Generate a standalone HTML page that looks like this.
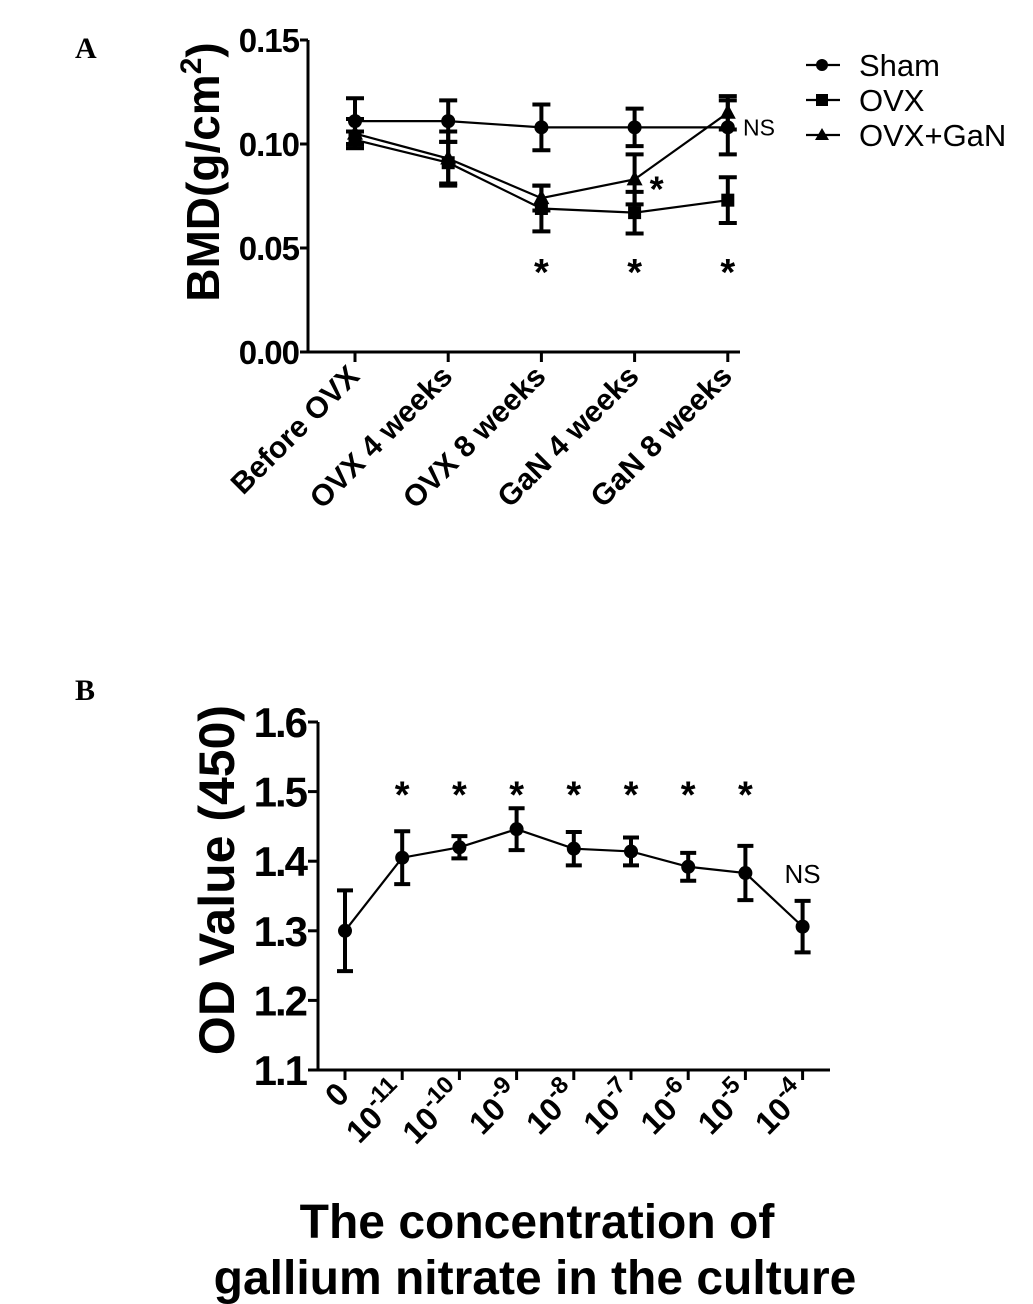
<!DOCTYPE html>
<html><head><meta charset="utf-8"><style>
html,body{margin:0;padding:0;background:#fff;}
svg{display:block;font-family:"Liberation Sans",Arial,sans-serif;}
</style></head><body>
<svg id="fig" width="1033" height="1304" viewBox="0 0 1033 1304">
<text x="75" y="58" font-family="Liberation Serif,serif" font-weight="bold" font-size="30">A</text>
<text x="75" y="700" font-family="Liberation Serif,serif" font-weight="bold" font-size="30">B</text>
<g id="chartA"></g>
<g id="chartB"></g>
</svg>
<script>
const aCategories = ["Before OVX","OVX 4 weeks","OVX 8 weeks","GaN 4 weeks","GaN 8 weeks"];
const aTicks = [0.00,0.05,0.10,0.15];
const aTickLabels = ["0.00","0.05","0.10","0.15"];
const shamValues = [0.111,0.111,0.108,0.108,0.108];
const shamErrors = [0.011,0.010,0.011,0.009,0.013];
const ovxValues = [0.102,0.091,0.069,0.067,0.073];
const ovxErrors = [0.004,0.010,0.011,0.010,0.011];
const ganValues = [0.105,0.093,0.074,0.083,0.115];
const ganErrors = [0.007,0.013,0.006,0.012,0.008];
const aStars = [null,null,"*","*","*"];

const bCategories = ["0","-11","-10","-9","-8","-7","-6","-5","-4"];
const bTicks = [1.1,1.2,1.3,1.4,1.5,1.6];
const bTickLabels = ["1.1","1.2","1.3","1.4","1.5","1.6"];
const odValues = [1.300,1.405,1.420,1.446,1.418,1.414,1.392,1.383,1.306];
const odErrors = [0.058,0.038,0.016,0.030,0.024,0.020,0.020,0.039,0.037];
const bMarks = ["","*","*","*","*","*","*","*","NS"];

const NS="http://www.w3.org/2000/svg";
function mk(parent,tag,attrs,text){const e=document.createElementNS(NS,tag);for(const k in attrs)e.setAttribute(k,attrs[k]);if(text!==undefined)e.textContent=text;parent.appendChild(e);return e;}

// ---------- Chart A ----------
const gA=document.getElementById('chartA');
const axA={x0:308,x1:740,yTop:40,yBot:352,vmax:0.15};
const yA=v=>axA.yBot-(v/axA.vmax)*(axA.yBot-axA.yTop);
const xA=i=>355+i*93.2;
let e;
e=mk(gA,'line',{x1:axA.x0,y1:axA.yTop,x2:axA.x0,y2:axA.yBot,stroke:'#000','stroke-width':3});


e=mk(gA,'line',{x1:axA.x0-2,y1:axA.yBot,x2:axA.x1,y2:axA.yBot,stroke:'#000','stroke-width':3});


aTicks.forEach((t,i)=>{
  mk(gA,'line',{x1:axA.x0-8,y1:yA(t),x2:axA.x0,y2:yA(t),stroke:'#000','stroke-width':3});
  e=mk(gA,'text',{x:299,y:yA(t)+12,'text-anchor':'end','font-weight':'bold','font-size':33,'letter-spacing':-1},aTickLabels[i]);
  
  
});
aCategories.forEach((c,i)=>{
  const x=xA(i);
  mk(gA,'line',{x1:x,y1:axA.yBot,x2:x,y2:axA.yBot+10,stroke:'#000','stroke-width':3});
  e=mk(gA,'text',{x:x+6,y:axA.yBot+26,'text-anchor':'end','font-weight':'bold','font-size':30,transform:`rotate(-45 ${x+6} ${axA.yBot+26})`},c);
  
  
});
e=mk(gA,'text',{x:0,y:0,'text-anchor':'middle','font-weight':'bold','font-size':46,transform:'translate(219 172) rotate(-90)'});


e.innerHTML='BMD(g/cm<tspan dy="-18" font-size="30">2</tspan><tspan dy="18">)</tspan>';

function series(g,vals,errs,xf,yf,marker,name,cap){
  let d='';vals.forEach((v,i)=>{d+=(i?'L':'M')+xf(i)+' '+yf(v);});
  e=mk(g,'path',{d:d,fill:'none',stroke:'#000','stroke-width':2.2});
  
  
  vals.forEach((v,i)=>{
    const x=xf(i),y1=yf(v+errs[i]),y2=yf(v-errs[i]);
    e=mk(g,'path',{d:`M${x} ${y1}V${y2}M${x-cap} ${y1}H${x+cap}M${x-cap} ${y2}H${x+cap}`,stroke:'#000','stroke-width':4,fill:'none'});
    
    
    const y=yf(v);
    if(marker==='circle') e=mk(g,'circle',{cx:x,cy:y,r:7,fill:'#000'});
    else if(marker==='square') e=mk(g,'rect',{x:x-6.5,y:y-6.5,width:13,height:13,fill:'#000'});
    else e=mk(g,'path',{d:`M${x} ${y-9}L${x+8} ${y+6}L${x-8} ${y+6}Z`,fill:'#000'});
    
    
  });
}
series(gA,ovxValues,ovxErrors,xA,yA,'square','ovx',9);
series(gA,ganValues,ganErrors,xA,yA,'triangle','ovx-gan',9);
series(gA,shamValues,shamErrors,xA,yA,'circle','sham',9);
aStars.forEach((s,i)=>{ if(!s) return;
  e=mk(gA,'text',{x:xA(i),y:yA(0.040)+16,'text-anchor':'middle','font-weight':'bold','font-size':38},s);
  
  
});
e=mk(gA,'text',{x:xA(3)+22,y:yA(ganValues[3])+22,'text-anchor':'middle','font-weight':'bold','font-size':36},'*');


e=mk(gA,'text',{x:743,y:yA(shamValues[4])+8,'font-size':23},'NS');


// legend
const leg=[["Sham","circle"],["OVX","square"],["OVX+GaN","triangle"]];
leg.forEach((l,i)=>{
  const y=65+i*35;
  const g=mk(gA,'g',{});
  
  
  mk(g,'line',{x1:806,y1:y,x2:840,y2:y,stroke:'#000','stroke-width':2.2});
  if(l[1]==='circle') mk(g,'circle',{cx:822,cy:y,r:6,fill:'#000'});
  else if(l[1]==='square') mk(g,'rect',{x:816,y:y-6,width:12,height:12,fill:'#000'});
  else mk(g,'path',{d:`M822 ${y-7}L829 ${y+5}L815 ${y+5}Z`,fill:'#000'});
  mk(g,'text',{x:859,y:y+11,'font-size':31},l[0]);
});

// ---------- Chart B ----------
const gB=document.getElementById('chartB');
const axB={x0:318,x1:830,yTop:722,yBot:1070,vmin:1.1,vmax:1.6};
const yB=v=>axB.yBot-(v-axB.vmin)/(axB.vmax-axB.vmin)*(axB.yBot-axB.yTop);
const xB=i=>345+i*57.2;
e=mk(gB,'line',{x1:axB.x0,y1:axB.yTop,x2:axB.x0,y2:axB.yBot,stroke:'#000','stroke-width':3});


e=mk(gB,'line',{x1:axB.x0-2,y1:axB.yBot,x2:axB.x1,y2:axB.yBot,stroke:'#000','stroke-width':3});


bTicks.forEach((t,i)=>{
  mk(gB,'line',{x1:axB.x0-10,y1:yB(t),x2:axB.x0,y2:yB(t),stroke:'#000','stroke-width':3});
  e=mk(gB,'text',{x:306,y:yB(t)+15,'text-anchor':'end','font-weight':'bold','font-size':42,'letter-spacing':-2},bTickLabels[i]);
  
  
});
bCategories.forEach((c,i)=>{
  const x=xB(i);
  mk(gB,'line',{x1:x,y1:axB.yBot,x2:x,y2:axB.yBot+10,stroke:'#000','stroke-width':3});
  const ax=x+6, ay=axB.yBot+26;
  e=mk(gB,'text',{x:ax,y:ay,'text-anchor':'end','font-weight':'bold','font-size':32,transform:`rotate(-45 ${ax} ${ay})`});
  
  
  if(c==='0') e.textContent='0';
  else e.innerHTML='10<tspan dy="-14" font-size="24">'+c+'</tspan>';
});
e=mk(gB,'text',{x:0,y:0,'text-anchor':'middle','font-weight':'bold','font-size':50,transform:'translate(234 880) rotate(-90)'},'OD Value (450)');


series(gB,odValues,odErrors,xB,yB,'circle','od',8);
bMarks.forEach((s,i)=>{ if(!s) return;
  const star=s==='*';
  e=mk(gB,'text',{x:xB(i),y:star?yB(1.5)+16:yB(1.38)+8,'text-anchor':'middle','font-weight':star?'bold':'normal','font-size':star?38:26},s);
  
  
});
e=mk(gB,'text',{x:537,y:1238,'text-anchor':'middle','font-weight':'bold','font-size':48},'The concentration of');


e=mk(gB,'text',{x:535,y:1294,'text-anchor':'middle','font-weight':'bold','font-size':48},'gallium nitrate in the culture');


</script>
</body></html>
